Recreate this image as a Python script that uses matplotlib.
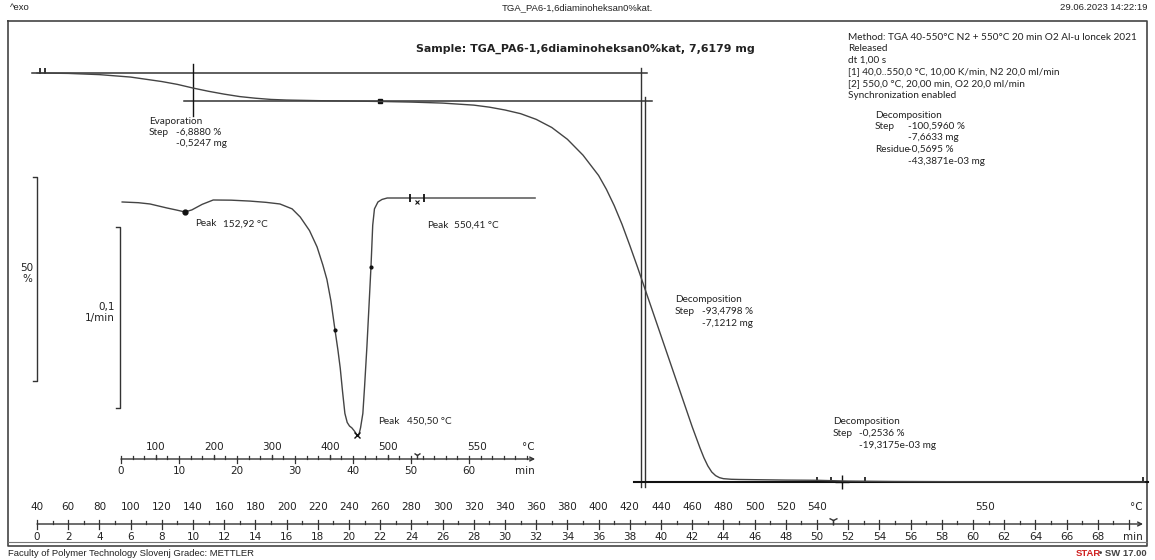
import matplotlib
matplotlib.use("Agg")
import matplotlib.pyplot as plt
from matplotlib.transforms import blended_transform_factory

# TGA curve: time (min) vs weight (%)
tga_time = [0, 2, 4, 6, 8, 9, 10, 11, 12, 13, 14, 15, 16, 18, 20, 22, 24, 26, 28, 29,
            30, 31, 32, 33, 34, 35, 36, 36.5, 37, 37.5, 38, 38.5, 39, 39.5, 40, 40.5,
            41, 41.5, 42, 42.5, 42.75, 43, 43.25, 43.5, 43.75, 44, 44.5, 45, 46, 48,
            50, 52, 55, 60, 65, 71]
tga_weight = [100.0, 99.9, 99.6, 99.0, 97.9, 97.2, 96.3, 95.5, 94.8, 94.2, 93.8, 93.5,
              93.35, 93.2, 93.1, 93.0, 92.85, 92.6, 92.1, 91.6, 90.9, 90.0, 88.6, 86.6,
              83.7, 79.8, 74.8, 71.4, 67.4, 62.8, 57.6, 52.2, 46.6, 41.0, 35.4, 29.8,
              24.2, 18.6, 13.0, 7.8, 5.4, 3.4, 1.9, 1.0, 0.5, 0.25, 0.1, 0.05, 0.0,
              -0.1, -0.15, -0.35, -0.45, -0.52, -0.55, -0.57]

# DTG curve: time (min) vs 1/min
dtg_time = [0.2, 3, 5, 7.9, 9.5, 11.0, 12.2, 14.0, 15.9, 19.0, 22.2, 25.0, 27.4, 29.5,
            30.9, 32.5, 33.8, 34.8, 35.5, 36.2, 36.9, 37.4, 37.8, 38.2, 38.6, 39.0, 39.4,
            39.8, 40.3, 40.7, 41.0, 41.3, 41.7, 42.0, 42.4, 42.8, 43.1, 43.4, 43.7,
            44.3, 45.0, 45.9, 71.4]
dtg_value = [-0.0022, -0.0026, -0.0033, -0.0055, -0.0066, -0.0077, -0.0066, -0.0035,
             -0.0011, -0.0012, -0.0017, -0.0024, -0.0033, -0.006, -0.0105, -0.018,
             -0.027, -0.037, -0.045, -0.057, -0.073, -0.084, -0.094, -0.107, -0.119,
             -0.124, -0.126, -0.127, -0.129, -0.131, -0.131, -0.127, -0.119, -0.104,
             -0.082, -0.057, -0.038, -0.015, -0.006, -0.0022, -0.0008, 0.0, 0.0]

# main axis labels
main_time_ticks = list(range(0, 70, 2))
main_temp_labels = list(range(40, 541, 20))
main_temp_pos = list(range(0, 51, 2))
# inset axis labels
inset_time_ticks = [0, 10, 20, 30, 40, 50, 60]
inset_temp_labels = [100, 200, 300, 400, 500]
inset_temp_pos = [6, 16, 26, 36, 46]

W, H = 1155, 560
fig = plt.figure(figsize=(W / 100, H / 100), dpi=100)

page = fig.add_axes([0, 0, 1, 1])
page.set_xlim(0, W)
page.set_ylim(H, 0)
page.axis("off")

# main TGA axes (pixel mapping: x = 37 + 15.6 t, y = 73 + (100 - w) * k)
k = (482 - 73) / 100.57
ax = fig.add_axes([0, 0, 1, 1], facecolor="none")
ax.set_xlim(-37 / 15.6, (W - 37) / 15.6)
ax.set_ylim(100 - (H - 73) / k, 100 + 73 / k)
ax.axis("off")

# inset DTG axes (x = 121 + 5.8 t, y = 198 - 1810 v)
dx = fig.add_axes([0, 0, 1, 1], facecolor="none")
dx.set_xlim(-121 / 5.8, (W - 121) / 5.8)
dx.set_ylim(-(H - 198) / 1810, 198 / 1810)
dx.axis("off")

ink = "#333333"
txt = "#222222"
small = dict(fontsize=7.2, family="Lato", color=txt)
head = dict(fontsize=6.8, family="Liberation Sans", color=txt)
num = dict(fontsize=7.5, family="DejaVu Sans", color=txt)

# frame
page.plot([8, 1147, 1147, 8, 8], [21, 21, 546, 546, 21], color="#444", lw=1.2)
page.plot([8, 1147], [541.5, 541.5], color="#777", lw=0.8)

# header/footer
page.text(10, 8, "^exo", ha="left", va="center", **head)
page.text(577, 8, "TGA_PA6-1,6diaminoheksan0%kat.", ha="center", va="center", **head)
page.text(1147, 8, "29.06.2023 14:22:19", ha="right", va="center", **head)
page.text(8, 554, "Faculty of Polymer Technology Slovenj Gradec: METTLER", ha="left",
          va="center", **head)
page.text(1147, 554, "\u2022 SW 17.00", ha="right", va="center", fontsize=6.8,
          family="Liberation Sans", color="#444", fontweight="bold")
page.text(1101, 554, "STAR", ha="right", va="center", fontsize=6.8,
          family="Liberation Sans", color="#d02020", fontweight="bold")

page.text(585, 49, "Sample: TGA_PA6-1,6diaminoheksan0%kat, 7,6179 mg", ha="center",
          va="center", fontsize=7.95, family="DejaVu Sans", fontweight="bold", color=txt)

method = ["Method: TGA 40-550\u00b0C N2 + 550\u00b0C 20 min O2 Al-u loncek 2021",
          "Released", "dt 1,00 s",
          "[1] 40,0..550,0 \u00b0C, 10,00 K/min, N2 20,0 ml/min",
          "[2] 550,0 \u00b0C, 20,00 min, O2 20,0 ml/min",
          "Synchronization enabled"]
for i, line in enumerate(method):
    page.text(848, 37 + i * 11.6, line, ha="left", va="center", **small)


def block(x, xv, y, rows):
    for i, (a, b) in enumerate(rows):
        if a:
            page.text(x, y + i * 11.5, a, ha="left", va="center", **small)
        if b:
            page.text(xv, y + i * 11.5, b, ha="left", va="center", **small)


block(875, 908, 115, [("Decomposition", ""), ("Step", "-100,5960 %"), ("", "-7,6633 mg"),
                      ("Residue", "-0,5695 %"), ("", "-43,3871e-03 mg")])
block(149, 176, 121, [("Evaporation", ""), ("Step", "-6,8880 %"), ("", "-0,5247 mg")])
block(675, 702, 300, [("Decomposition", ""), ("Step", "-93,4798 %"), ("", "-7,1212 mg")])
block(833, 859, 422, [("Decomposition", ""), ("Step", "-0,2536 %"), ("", "-19,3175e-03 mg")])

page.text(195, 224, "Peak", ha="left", va="center", **small)
page.text(223, 224, "152,92 \u00b0C", ha="left", va="center", **small)
page.text(427, 225, "Peak", ha="left", va="center", **small)
page.text(454, 225, "550,41 \u00b0C", ha="left", va="center", **small)
page.text(378, 421, "Peak", ha="left", va="center", **small)
page.text(407, 421, "450,50 \u00b0C", ha="left", va="center", **small)

# scale bars
page.plot([33, 37, 37, 33], [177, 177, 381, 381], color=ink, lw=1)
page.text(27, 268, "50", ha="center", va="center", **num)
page.text(27, 279, "%", ha="center", va="center", **num)
page.plot([116, 120, 120, 116], [227, 227, 408, 408], color=ink, lw=1)
page.text(115, 307, "0,1", ha="right", va="center", **num)
page.text(115, 318, "1/min", ha="right", va="center", **num)

# TGA curve and evaluation lines
ax.plot(tga_time, tga_weight, color="#444", lw=1.0, zorder=3)
ax.plot([-0.3, 39.1], [100, 100], color=ink, lw=1.1)
ax.plot([9.4, 39.4], [93.1, 93.1], color=ink, lw=1.1)
ax.plot([10, 10], [102.2, 89.4], color="#111", lw=1.0)
ax.plot([38.7, 38.7], [101.2, -1.8], color=ink, lw=1.0)
ax.plot([39.0, 39.0], [94.1, -1.8], color=ink, lw=1.0)
ax.plot([38.3, 71.2], [-0.55, -0.55], color="#111", lw=1.5)
ax.plot([0.2, 0.5], [100.4, 100.4], ls="none", marker="|", ms=4, color="#111", mew=1.2)
ax.plot([22.0], [93.2], ls="none", marker="s", ms=3.5, color="#111")
ax.plot([50.0, 50.9, 53.1, 70.9], [-0.2, -0.2, -0.2, -0.2], ls="none", marker="|",
        ms=4, color="#111", mew=1.2)
ax.plot([51.6], [-0.55], ls="none", marker="+", ms=10, color="#111", mew=1.0)

# DTG curve
dx.plot(dtg_time, dtg_value, color="#444", lw=1.0)
dx.plot([11.0], [-0.0077], ls="none", marker="o", ms=3.5, color="#111")
dx.plot([36.9, 43.1], [-0.073, -0.038], ls="none", marker="o", ms=2, color="#111")
dx.plot([40.7], [-0.131], ls="none", marker="x", ms=4, color="#111", mew=1)
dx.plot([49.8, 52.2], [0.0, 0.0], ls="none", marker="|", ms=6, color="#111", mew=1.3)
dx.plot([51.0], [-0.002], ls="none", marker="x", ms=3, color="#111", mew=0.8)

# main x axis
tr = blended_transform_factory(ax.transData, page.transData)
ax.annotate("", xy=(70.9, 524), xytext=(0, 524), xycoords=tr, textcoords=tr,
            arrowprops=dict(arrowstyle="->", color=ink, lw=1, shrinkA=0, shrinkB=0,
                            mutation_scale=7))
for t in range(0, 71):
    if t % 2 == 0:
        ax.plot([t, t], [520, 529], color=ink, lw=0.9, transform=tr)
    else:
        ax.plot([t, t], [521, 524], color=ink, lw=0.9, transform=tr)
for t in main_time_ticks:
    ax.text(t, 537, str(t), ha="center", va="center", transform=tr, **num)
for t, c in zip(main_temp_pos, main_temp_labels):
    ax.text(t, 507, str(c), ha="center", va="center", transform=tr, **num)
ax.text(60.8, 507, "550", ha="center", va="center", transform=tr, **num)
ax.text(70.9, 507, "\u00b0C", ha="right", va="center", transform=tr, **num)
ax.text(70.9, 537, "min", ha="right", va="center", transform=tr, **num)
ax.plot([51.0], [520], ls="none", marker="1", ms=7, color=ink, transform=tr)

# inset x axis
tr2 = blended_transform_factory(dx.transData, page.transData)
dx.annotate("", xy=(71.4, 459), xytext=(0, 459), xycoords=tr2, textcoords=tr2,
            arrowprops=dict(arrowstyle="->", color=ink, lw=1, shrinkA=0, shrinkB=0,
                            mutation_scale=7))
for t in range(0, 71, 2):
    dx.plot([t, t], [456, 459], color=ink, lw=0.9, transform=tr2)
for t in inset_time_ticks:
    dx.plot([t, t], [459, 463], color=ink, lw=0.9, transform=tr2)
    dx.text(t, 471, str(t), ha="center", va="center", transform=tr2, **num)
for t, c in zip(inset_temp_pos, inset_temp_labels):
    dx.plot([t, t], [455, 459], color=ink, lw=0.9, transform=tr2)
    dx.text(t, 447, str(c), ha="center", va="center", transform=tr2, **num)
dx.text(61.4, 447, "550", ha="center", va="center", transform=tr2, **num)
dx.text(71.4, 447, "\u00b0C", ha="right", va="center", transform=tr2, **num)
dx.text(71.4, 471, "min", ha="right", va="center", transform=tr2, **num)
dx.plot([51.0], [455], ls="none", marker="1", ms=6, color=ink, transform=tr2)

fig.savefig("out.png", dpi=100)
